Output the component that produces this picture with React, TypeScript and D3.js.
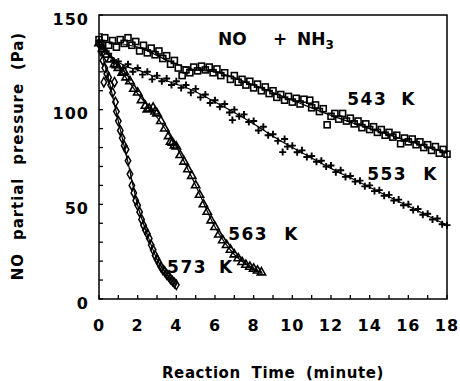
import React from 'react';
import * as d3 from 'd3';

type Pt = [number, number];

const xTickLabels = [0, 2, 4, 6, 8, 10, 12, 14, 16, 18];
const yTickLabels = [0, 50, 100, 150];

// 543 K (open squares)
const pts543: Pt[] = [
  [0, 137], [0.1, 135], [0.3, 138], [0.5, 134], [0.7, 136.5], [0.9, 133], [1.1, 137], [1.3, 135],
  [1.5, 138], [1.7, 134], [1.9, 136], [2.1, 131], [2.3, 134], [2.5, 130], [2.7, 132.5], [2.9, 129],
  [3.1, 131], [3.3, 127], [3.5, 128.5], [3.7, 124], [3.9, 126], [4.1, 122], [4.3, 118], [4.5, 121],
  [4.7, 119.5], [4.9, 122.5], [5.1, 120.5], [5.3, 123], [5.5, 121], [5.7, 122.5], [5.9, 119.5],
  [6.1, 121.5], [6.3, 118], [6.5, 119.5], [6.8, 116], [7.0, 118], [7.2, 114.5], [7.4, 116],
  [7.6, 113], [7.8, 115], [8.0, 111.5], [8.2, 113.5], [8.4, 110], [8.6, 112], [8.8, 108.5],
  [9.0, 110], [9.2, 106.5], [9.4, 108], [9.6, 105], [9.8, 107], [10.0, 104], [10.2, 106],
  [10.4, 103], [10.6, 105.5], [10.9, 105], [11.0, 101], [11.2, 102.5], [11.4, 99], [11.6, 100.5],
  [11.8, 92], [12.0, 96.5], [12.2, 98], [12.4, 95], [12.6, 98], [12.8, 94], [13.0, 95.5],
  [13.2, 92.5], [13.4, 94], [13.6, 90.5], [13.8, 92.5], [14.0, 89.5], [14.2, 91], [14.4, 88],
  [14.6, 89.5], [14.8, 86.5], [15.0, 88], [15.2, 85.5], [15.4, 86.5], [15.6, 82], [15.8, 85],
  [16.0, 83], [16.2, 84.5], [16.4, 81.5], [16.6, 83], [16.8, 80], [17.0, 81.5], [17.2, 78.5],
  [17.4, 80.5], [17.6, 77], [17.8, 79], [18.0, 76.5],
];
const fit543: Pt[] = [
  [0, 136], [2, 133], [4, 124], [5, 121], [6, 120], [8, 113], [10, 105], [12, 97], [14, 90],
  [16, 83.5], [18, 77],
];

// 553 K (pluses)
const pts553: Pt[] = [
  [0, 136], [0.25, 132], [0.5, 129.5], [0.75, 126], [1.0, 125.5], [1.25, 122], [1.5, 124],
  [1.75, 120], [2.0, 122], [2.25, 118.5], [2.5, 120], [2.75, 116], [3.0, 118], [3.25, 115],
  [3.5, 116.5], [3.75, 113], [4.0, 115], [4.25, 111.5], [4.5, 113], [4.75, 109], [5.0, 111],
  [5.25, 106.5], [5.5, 108], [5.75, 103.5], [6.0, 105], [6.25, 101.5], [6.5, 103], [6.75, 98.5],
  [6.9, 94.5], [7.0, 100], [7.25, 96.5], [7.5, 97.5], [7.75, 93.5], [8.0, 94], [8.25, 89],
  [8.5, 91], [8.75, 86.5], [9.0, 87], [9.25, 83.5], [9.5, 77.6], [9.6, 84.5], [9.75, 80.5],
  [10.0, 81], [10.25, 77.5], [10.5, 78.5], [10.75, 75], [11.0, 75.5], [11.25, 72.5], [11.5, 73],
  [11.75, 70], [12.0, 70.5], [12.25, 67], [12.5, 68], [12.75, 64.5], [13.0, 65], [13.25, 62],
  [13.5, 62.5], [13.75, 59.5], [14.0, 60], [14.25, 57], [14.5, 57.5], [14.75, 54.5], [15.0, 55],
  [15.25, 52], [15.5, 52.5], [15.75, 49.5], [16.0, 50], [16.25, 47], [16.5, 47.5], [16.75, 44.5],
  [17.0, 45], [17.25, 42], [17.5, 42.5], [17.75, 39.5], [18.0, 39],
];
const fit553: Pt[] = [
  [0, 135], [0.5, 129], [1, 125], [1.5, 122.5], [2, 121], [3, 117], [4, 113.5], [5, 109.5],
  [6, 104], [7, 98.5], [8, 92.5], [9, 86], [10, 80], [11, 74.5], [12, 69], [13, 64], [14, 59],
  [15, 54], [16, 49], [17, 44], [18, 39],
];

// 563 K (open triangles)
const pts563: Pt[] = [
  [0, 135], [0.2, 132], [0.4, 129], [0.6, 126.5], [0.8, 124], [0.9, 123.5], [1.0, 122],
  [1.2, 119.5], [1.3, 120], [1.4, 117], [1.6, 115], [1.8, 111], [2.0, 109], [2.2, 105],
  [2.4, 102], [2.5, 100], [2.6, 100.5], [2.8, 101], [2.9, 99], [3.0, 98], [3.2, 94], [3.4, 90],
  [3.6, 86], [3.7, 83], [3.8, 82.5], [3.9, 81], [4.0, 80.5], [4.2, 76], [4.4, 72.5], [4.6, 68.5],
  [4.8, 65], [5.0, 60], [5.2, 55], [5.4, 50], [5.6, 46], [5.8, 41.5], [6.0, 38], [6.2, 34],
  [6.4, 31], [6.6, 28.5], [6.8, 26], [7.0, 23.5], [7.2, 21.5], [7.4, 19.5], [7.6, 18], [7.8, 17],
  [8.0, 16], [8.2, 15], [8.4, 14],
];
const fit563: Pt[] = [
  [0, 135], [1, 122.5], [2, 108.5], [3, 96], [4, 80.5], [5, 60], [6, 38], [7, 23.5], [8, 16],
  [8.4, 14],
];

// 573 K (open diamonds)
const pts573: Pt[] = [
  [0, 135], [0.1, 131], [0.2, 126], [0.25, 114.5], [0.3, 122], [0.4, 119], [0.5, 117],
  [0.6, 113], [0.7, 109], [0.8, 114.5], [0.85, 104], [0.9, 99], [1.0, 94], [1.1, 89], [1.2, 85],
  [1.3, 81], [1.4, 79], [1.5, 73], [1.6, 66], [1.7, 60], [1.8, 56], [1.9, 52], [2.0, 49.5],
  [2.1, 46], [2.2, 42], [2.3, 39], [2.4, 36.5], [2.5, 34.5], [2.6, 32], [2.7, 28.5], [2.8, 26],
  [2.9, 23], [3.0, 21], [3.1, 19], [3.2, 17], [3.3, 15.5], [3.4, 14.5], [3.5, 13], [3.6, 12],
  [3.7, 10.5], [3.8, 9.5], [3.9, 8.5], [4.0, 7.5],
];
const fit573: Pt[] = [
  [0, 135], [0.5, 116], [1, 94], [1.5, 72], [2, 49.5], [2.5, 34], [3, 21], [3.5, 13], [4, 7.5],
];

const seriesLabels = ['543', '553', '563', '573'];

export default function App() {
  const W = 460;
  const H = 381;
  const x = d3.scaleLinear().domain([0, 18]).range([99, 447]);
  const y = d3.scaleLinear().domain([0, 150]).range([299, 15]);
  const line = d3
    .line<Pt>()
    .x((d) => x(d[0]))
    .y((d) => y(d[1]))
    .curve(d3.curveMonotoneX);

  const tri = d3.symbol(d3.symbolTriangle, 30)()!;
  const dia = d3.symbol(d3.symbolDiamond, 26)()!;
  const font = "'DejaVu Sans', 'Liberation Sans', Arial, sans-serif";
  const minorX = d3.range(0, 19, 1);
  const minorY = d3.range(0, 151, 10);

  const labelPos: { t: number; p: number; kdx: number }[] = [
    { t: 12.84, p: 102.5, kdx: 54 },
    { t: 13.87, p: 63, kdx: 56 },
    { t: 6.68, p: 31, kdx: 56 },
    { t: 3.52, p: 13.5, kdx: 52 },
  ];

  return (
    <svg
      width={W}
      height={H}
      style={{ position: 'fixed', left: 0, top: 0, background: '#fff' }}
      fontFamily={font}
      fontWeight="bold"
    >
      <rect x={0} y={0} width={W} height={H} fill="#fff" />
      {/* fit lines */}
      {[fit543, fit553, fit563, fit573].map((f, i) => (
        <path key={i} d={line(f)!} fill="none" stroke="#000" strokeWidth={1.2} />
      ))}
      {/* 543 squares */}
      {pts543.map((d, i) => (
        <rect
          key={'s' + i}
          x={x(d[0]) - 3}
          y={y(d[1]) - 3}
          width={6}
          height={6}
          fill="none"
          stroke="#000"
          strokeWidth={1.6}
        />
      ))}
      {/* 553 pluses */}
      {pts553.map((d, i) => (
        <path
          key={'p' + i}
          transform={`translate(${x(d[0])},${y(d[1])})`}
          d="M-3.5,0H3.5M0,-3.5V3.5"
          stroke="#000"
          strokeWidth={1.9}
        />
      ))}
      {/* 563 triangles */}
      {pts563.map((d, i) => (
        <path
          key={'t' + i}
          transform={`translate(${x(d[0])},${y(d[1])})`}
          d={tri}
          fill="none"
          stroke="#000"
          strokeWidth={1.6}
        />
      ))}
      {/* 573 diamonds */}
      {pts573.map((d, i) => (
        <path
          key={'d' + i}
          transform={`translate(${x(d[0])},${y(d[1])})`}
          d={dia}
          fill="none"
          stroke="#000"
          strokeWidth={1.5}
        />
      ))}
      {/* frame */}
      <rect x={99} y={15} width={348} height={284} fill="none" stroke="#000" strokeWidth={1.5} />
      {/* ticks */}
      {minorX.map((t) => (
        <line key={'xt' + t} x1={x(t)} x2={x(t)} y1={299} y2={295} stroke="#000" strokeWidth={1.3} />
      ))}
      {minorY.map((p) => (
        <line key={'yt' + p} x1={99} x2={103} y1={y(p)} y2={y(p)} stroke="#000" strokeWidth={1.3} />
      ))}
      {/* tick labels */}
      {xTickLabels.map((t) => (
        <text key={'xl' + t} x={x(t)} y={331} textAnchor="middle" fontSize={16} letterSpacing={1}>
          {t}
        </text>
      ))}
      {yTickLabels.map((p) => (
        <text key={'yl' + p} x={89} y={y(p) + 9.5} textAnchor="end" fontSize={16} letterSpacing={1}>
          {p}
        </text>
      ))}
      {/* axis titles */}
      <text x={273} y={378} textAnchor="middle" fontSize={15} letterSpacing={0.6} wordSpacing={5}>
        Reaction Time (minute)
      </text>
      <text
        transform="translate(23,156) rotate(-90)"
        textAnchor="middle"
        fontSize={15}
        letterSpacing={0.9}
        wordSpacing={7}
      >
        NO partial pressure (Pa)
      </text>
      {/* title */}
      <text x={218} y={45} fontSize={17}>
        NO
      </text>
      <text x={280} y={45} fontSize={17} textAnchor="middle">
        +
      </text>
      <text x={297} y={45} fontSize={17}>
        NH
        <tspan fontSize={12} dy={4}>
          3
        </tspan>
      </text>
      {/* series labels */}
      {labelPos.map((l, i) => (
        <g key={'lab' + i}>
          <text x={x(l.t)} y={y(l.p)} fontSize={17} letterSpacing={1.5}>
            {seriesLabels[i]}
          </text>
          <text x={x(l.t) + l.kdx} y={y(l.p)} fontSize={17}>
            K
          </text>
        </g>
      ))}
    </svg>
  );
}
